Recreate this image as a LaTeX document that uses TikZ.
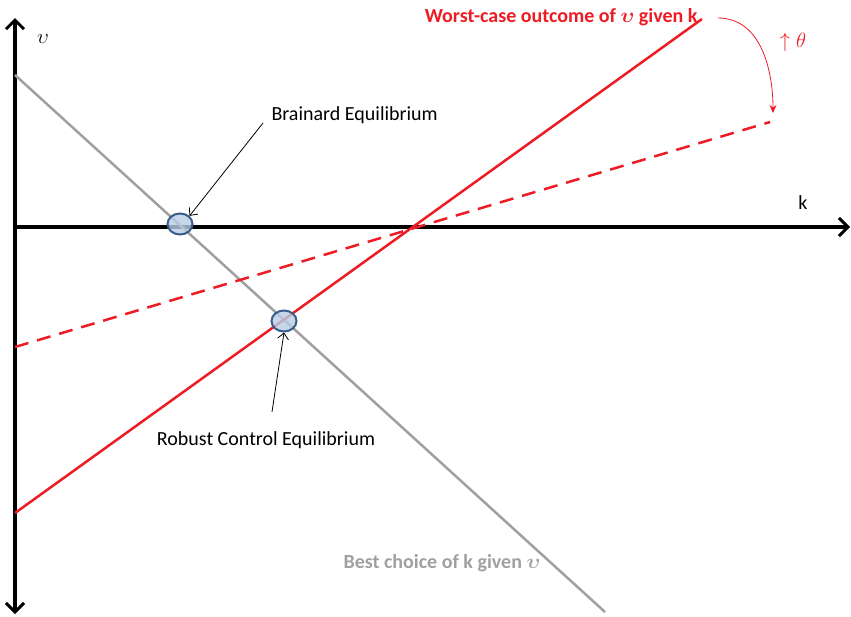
\documentclass[tikz,border=0pt]{standalone}
\usepackage{amsmath}
\usepackage{fontspec}
\setmainfont{Carlito}
\usetikzlibrary{positioning,arrows.meta,shapes.geometric}

\definecolor{curvered}{RGB}{237,28,36}
\definecolor{bestgray}{RGB}{160,160,160}
\definecolor{eqfill}{RGB}{185,205,229}
\definecolor{eqdraw}{RGB}{56,93,138}

\begin{document}
\begin{tikzpicture}[x=1pt,y=-1pt,
    axis/.style={line width=3.5pt,-{Straight Barb[length=9pt,width=18pt,line width=3pt]}},
    eq/.style={ellipse,draw=eqdraw,fill=eqfill,line width=2pt,minimum width=25pt,minimum height=21pt,inner sep=0pt,fill opacity=0.8},
    pointer/.style={line width=0.8pt,-{Straight Barb[length=6pt,width=11pt]}},
    every node/.style={font=\fontsize{20}{22}\selectfont}]
      \useasboundingbox (0,0) rectangle (851,616);
      % axes
      \coordinate (O) at (15,227);
      \coordinate (Top) at (15,18);
      \coordinate (Bot) at (15,614);
      \coordinate (Right) at (850,227);
      \draw[axis] (O) -- (Top);
      \draw[axis] (O) -- (Bot);
      \draw[axis] (O) -- (Right);
      \node (v) at (43,39) {$\upsilon$};
      \node (k) at (803,203) {k};
      % best choice and worst-case lines
      \coordinate (G1) at (15,75);
      \coordinate (G2) at (605,612);
      \coordinate (R1) at (15,513);
      \coordinate (R2) at (702,19);
      \coordinate (D1) at (15,347);
      \coordinate (D2) at (770,122);
      \draw[bestgray,line width=2.5pt] (G1) -- (G2);
      \draw[curvered,line width=2.5pt] (R1) -- (R2);
      \draw[curvered,line width=2.5pt,dash pattern=on 14pt off 9pt] (D1) -- (D2);
      % equilibria
      \node[eq] (BE) at (180,224) {};
      \node[eq] (RE) at (284,321) {};
      \node[anchor=west] (BElab) at (268,115) {Brainard Equilibrium};
      \node (RElab) at (266,440) {Robust Control Equilibrium};
      \draw[pointer] (263,123) -- (BE.north east);
      \draw[pointer] (RElab.north) ++(6,-16) coordinate (Rs) -- (RE.south);
      % labels of the lines
      \node[anchor=east,text=curvered,font=\bfseries\fontsize{20}{22}\selectfont] (Wlab) at (701,17) {Worst-case outcome of $\boldsymbol{\upsilon}$ given k};
      \node[text=bestgray,font=\bfseries\fontsize{20}{22}\selectfont] (Blab) at (442,563) {Best choice of k given $\boldsymbol{\upsilon}$};
      % rotation
      \coordinate (T1) at (718,18);
      \coordinate (T2) at (773,113);
      \draw[curvered,line width=0.8pt,-{Stealth[length=8pt,width=7pt]}] (T1) to[out=0,in=90] (T2);
      \node[text=curvered] (theta) at (793,42) {$\uparrow\theta$};
\end{tikzpicture}
\end{document}
